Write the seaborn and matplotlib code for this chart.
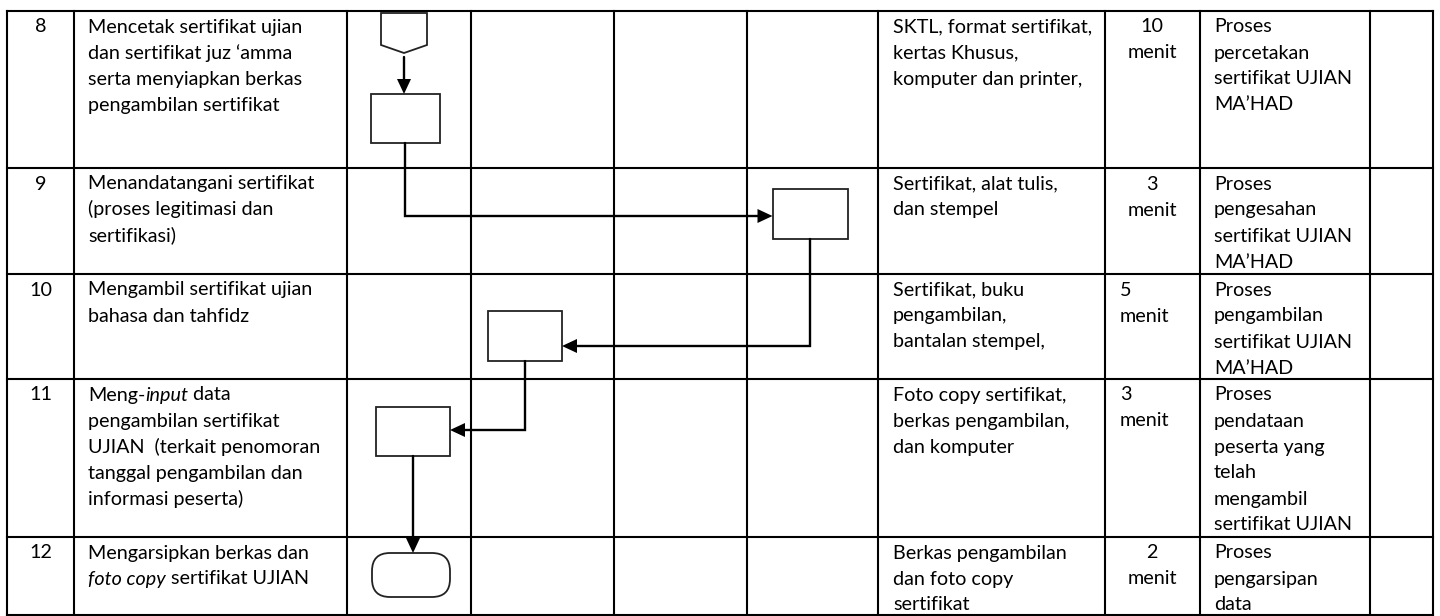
import matplotlib
matplotlib.use('Agg')
import matplotlib.pyplot as plt
from matplotlib.patches import Rectangle, Polygon, FancyBboxPatch
import seaborn as sns

# table content (rows 8-12 of the SOP flow table)
step_no = ['8', '9', '10', '11', '12']

# each line is either a plain string or a list of (text, style) pieces
activity = [
    ['Mencetak sertifikat ujian', 'dan sertifikat juz \u2018amma',
     'serta menyiapkan berkas', 'pengambilan sertifikat'],
    ['Menandatangani sertifikat', '(proses legitimasi dan', 'sertifikasi)'],
    ['Mengambil sertifikat ujian', 'bahasa dan tahfidz'],
    [[('Meng-', 'normal'), ('input', 'italic'), (' data', 'normal')],
     'pengambilan sertifikat', 'UJIAN  (terkait penomoran',
     'tanggal pengambilan dan', 'informasi peserta)'],
    ['Mengarsipkan berkas dan',
     [('foto copy', 'italic'), (' sertifikat UJIAN', 'normal')]],
]
tools = [
    ['SKTL, format sertifikat,', 'kertas Khusus,', 'komputer dan printer,'],
    ['Sertifikat, alat tulis,', 'dan stempel'],
    ['Sertifikat, buku', 'pengambilan,', 'bantalan stempel,'],
    ['Foto copy sertifikat,', 'berkas pengambilan,', 'dan komputer'],
    ['Berkas pengambilan', 'dan foto copy', 'sertifikat'],
]
duration = [['10', 'menit'], ['3', 'menit'], ['5', 'menit'], ['3', 'menit'], ['2', 'menit']]
duration_align = ['center', 'center', 'left', 'left', 'center']
output = [
    ['Proses', 'percetakan', 'sertifikat UJIAN', 'MA\u2019HAD'],
    ['Proses', 'pengesahan', 'sertifikat UJIAN', 'MA\u2019HAD'],
    ['Proses', 'pengambilan', 'sertifikat UJIAN', 'MA\u2019HAD'],
    ['Proses', 'pendataan', 'peserta yang', 'telah', 'mengambil', 'sertifikat UJIAN'],
    ['Proses', 'pengarsipan', 'data'],
]

# flow symbols: lane index (0-3) and symbol type per step
step_lane = [0, 3, 1, 0, 0]
step_shape = ['process', 'process', 'process', 'process', 'terminator']

# layout in pixels
col_edges = [7, 74, 347, 471, 614, 747, 878, 1105, 1200, 1370, 1433]
row_edges = [11, 168, 274, 379, 537, 615]
shape_cx = [405, 810, 525, 413, 411]
shape_top = [94, 189, 311, 407, 553]
shape_w = [69, 75, 74, 74, 78]
shape_h = [49, 50, 50, 49, 44]
elbow_y = [216, 346, 430, None]   # y of the horizontal leg of each connector

LINE_STEP = 26
FIRST_BASE = 21.5
PAD = 14

sns.set_theme(style='white')
plt.rcParams['font.family'] = ['Lato', 'DejaVu Sans']
FS = 14.2

fig = plt.figure(figsize=(14.4, 6.16), dpi=100)
ax = fig.add_axes([0, 0, 1, 1])
ax.set_xlim(0, 1440)
ax.set_ylim(616, 0)
ax.axis('off')
renderer = fig.canvas.get_renderer()


def put_line(x, y, line, ha='left'):
    pieces = [(line, 'normal')] if isinstance(line, str) else line
    if ha == 'center':
        total = 0
        for txt, st in pieces:
            t = ax.text(0, 0, txt, fontsize=FS, style=st)
            total += t.get_window_extent(renderer).width
            t.remove()
        x = x - total / 2
    for txt, st in pieces:
        t = ax.text(x, y, txt, fontsize=FS, style=st, ha='left', va='baseline', color='black')
        x += t.get_window_extent(renderer).width


def put_block(x, top, lines, ha='left'):
    for i, line in enumerate(lines):
        put_line(x, top + FIRST_BASE + i * LINE_STEP, line, ha)


# table grid
for xe in col_edges:
    ax.plot([xe, xe], [row_edges[0], row_edges[-1]], color='black', lw=1.5, solid_capstyle='projecting')
for ye in row_edges:
    ax.plot([col_edges[0], col_edges[-1]], [ye, ye], color='black', lw=1.5, solid_capstyle='projecting')

# cell texts
for r in range(len(step_no)):
    top = row_edges[r]
    put_line((col_edges[0] + col_edges[1]) / 2, top + FIRST_BASE, step_no[r], ha='center')
    put_block(col_edges[1] + PAD, top, activity[r])
    put_block(col_edges[6] + PAD + 1, top, tools[r])
    if duration_align[r] == 'center':
        put_block((col_edges[7] + col_edges[8]) / 2 - 0.5, top, duration[r], ha='center')
    else:
        put_block(col_edges[7] + PAD + 1, top, duration[r])
    put_block(col_edges[8] + PAD, top, output[r])

# flow symbols
EDGE = '#222222'
for i in range(len(step_no)):
    x0 = shape_cx[i] - shape_w[i] / 2
    if step_shape[i] == 'process':
        ax.add_patch(Rectangle((x0, shape_top[i]), shape_w[i], shape_h[i],
                               fill=False, ec=EDGE, lw=1.3, zorder=3))
    else:
        ax.add_patch(FancyBboxPatch((x0, shape_top[i]), shape_w[i], shape_h[i],
                                    boxstyle='round,pad=0,rounding_size=18',
                                    fill=False, ec=EDGE, lw=1.3, zorder=3))

# off-page connector above step 8
cx0 = 404
conn = [(cx0 - 23, 13), (cx0 + 23, 13), (cx0 + 23, 45), (cx0, 53), (cx0 - 23, 45)]
ax.add_patch(Polygon(conn, closed=True, fill=False, ec=EDGE, lw=1.3, zorder=3))


def head(tip, direction):
    L, W = 15, 7
    x, y = tip
    if direction == 'down':
        pts = [(x, y), (x - W, y - L), (x + W, y - L)]
    elif direction == 'right':
        pts = [(x, y), (x - L, y - W), (x - L, y + W)]
    else:
        pts = [(x, y), (x + L, y - W), (x + L, y + W)]
    ax.add_patch(Polygon(pts, closed=True, color='black', lw=0, zorder=4))


ARW = dict(color='black', lw=1.7, zorder=4, solid_joinstyle='miter')
# connector -> first box
ax.plot([cx0, cx0], [57, shape_top[0] - 14], **ARW)
head((cx0, shape_top[0]), 'down')

for i in range(len(step_no) - 1):
    sx = shape_cx[i]
    sy = shape_top[i] + shape_h[i]
    tx = shape_cx[i + 1]
    if elbow_y[i] is None:
        ty = shape_top[i + 1]
        ax.plot([sx, sx], [sy, ty - 14], **ARW)
        head((sx, ty), 'down')
    else:
        ey = elbow_y[i]
        if tx > sx:
            edge_x = tx - shape_w[i + 1] / 2
            ax.plot([sx, sx, edge_x - 14], [sy, ey, ey], **ARW)
            head((edge_x, ey), 'right')
        else:
            edge_x = tx + shape_w[i + 1] / 2
            ax.plot([sx, sx, edge_x + 14], [sy, ey, ey], **ARW)
            head((edge_x, ey), 'left')

fig.savefig('out.png', dpi=100, facecolor='white')
